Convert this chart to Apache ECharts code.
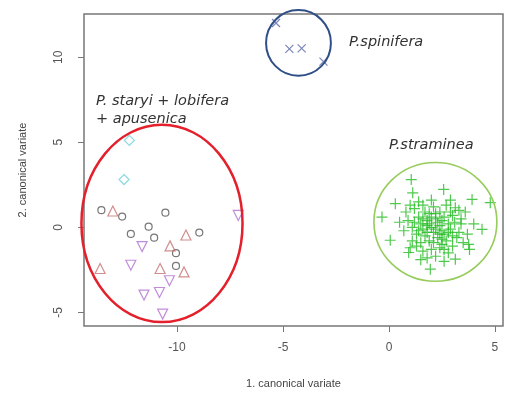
<!DOCTYPE html>
<html>
<head>
<meta charset="utf-8">
<script src="https://cdn.jsdelivr.net/npm/echarts@6/dist/echarts.min.js"></script>
<style>
  html, body { margin: 0; padding: 0; background: #fff; }
  #chart { width: 507px; height: 394px; }
</style>
</head>
<body>
<div id="chart"></div>
<script>
// canonical variate scores
const diamonds = [[-12.25, 5.11], [-12.5, 2.81]];
const circles = [
  [-13.57, 1.01], [-12.59, 0.63], [-10.55, 0.86], [-11.34, 0.04], [-12.18, -0.39],
  [-11.08, -0.61], [-8.95, -0.31], [-10.05, -1.52], [-10.05, -2.27]
];
const trianglesUp = [
  [-13.03, 0.96], [-9.58, -0.45], [-10.33, -1.09], [-13.63, -2.42], [-10.8, -2.42], [-9.67, -2.62]
];
const trianglesDown = [
  [-7.11, 0.7], [-11.65, -1.13], [-12.18, -2.23], [-10.36, -3.14], [-11.56, -3.98],
  [-10.83, -3.83], [-10.68, -5.1]
];
const spinifera = [[-5.33, 12.01], [-4.7, 10.49], [-4.12, 10.52], [-3.09, 9.74]];
const straminea = [
  [1.05, 2.81], [1.12, 2.03], [2.58, 2.23], [0.3, 1.39], [-0.33, 0.6], [3.92, 1.64],
  [4.78, 1.45], [3.13, 1.15], [4.39, -0.12], [0.06, -0.76], [3.76, -1.0], [0.93, -1.48],
  [3.13, -1.87], [1.95, -2.46],
  [1.2, 1.1], [1.6, 1.3], [2.1, 1.2], [2.4, 0.9], [1.9, 0.8], [1.4, 0.6], [0.9, 0.4],
  [1.1, 0.0], [0.7, -0.2], [1.5, 0.2], [1.8, 0.4], [2.2, 0.5], [2.6, 0.6], [3.0, 0.7],
  [3.4, 0.5], [3.6, 0.9], [2.8, 0.2], [2.4, 0.1], [2.0, 0.0], [1.6, -0.1], [1.3, -0.4],
  [1.7, -0.5], [2.1, -0.3], [2.5, -0.2], [2.9, -0.1], [3.3, -0.3], [3.7, -0.4], [3.1, 0.3],
  [2.3, -0.6], [1.9, -0.8], [1.5, -0.9], [1.1, -0.8], [2.7, -0.8], [3.0, -1.1], [2.4, -1.2],
  [2.0, -1.3], [1.6, -1.4], [2.8, -1.5], [2.2, -1.7], [1.8, -1.8], [2.5, -1.0], [1.4, 1.5],
  [2.0, 1.6], [2.7, 1.3], [3.3, 1.0], [0.8, 0.9], [1.0, -1.2], [3.5, -0.9], [2.6, -0.4],
  [1.2, 0.3], [1.7, 0.9], [2.3, 0.3], [2.9, 0.9], [3.2, -0.6], [1.9, 0.2], [2.1, -0.9],
  [2.5, 0.4], [1.4, -0.2], [2.8, -0.3], [2.0, 0.6], [1.8, -0.3], [2.4, -0.4], [2.2, 0.8],
  [1.6, 0.5], [3.0, -0.5], [2.6, -1.3], [1.3, -1.1], [2.2, -0.1], [1.8, 0.1], [2.5, -0.7],
  [3.4, 0.2], [0.5, 0.3], [4.0, 0.2], [3.8, -1.3], [1.0, 1.3], [2.9, 1.6], [1.5, -1.9],
  [2.6, -2.0]
];
// group ellipses: centre x, centre y, radius x, radius y
const ellipses = [[-10.71, 0.23, 3.8, 5.8], [-4.27, 10.84, 1.53, 1.93], [2.19, 0.32, 2.9, 3.49]];
const ellipseColors = ['#e3202b', '#2f4f86', '#96cc5c'];
const ellipseWidths = [2.5, 2, 1.6];
const xTicks = [-10, -5, 0, 5];
const yTicks = [-5, 0, 5, 10];

const chart = echarts.init(document.getElementById('chart'));

const axisFont = { fontFamily: 'Liberation Sans', fontSize: 12, color: '#555' };
const labelFont = 'italic 14.5px "DejaVu Sans"';

const openSymbol = (name, data, symbol, size, color, rotate) => ({
  name: name,
  type: 'scatter',
  data: data,
  symbol: symbol,
  symbolSize: size,
  symbolRotate: rotate || 0,
  itemStyle: { color: 'transparent', borderColor: color, borderWidth: 1.2 },
  z: 3
});

chart.setOption({
  animation: false,
  grid: { left: 84, right: 4, top: 14, bottom: 67, show: true, borderColor: '#777', borderWidth: 1.5 },
  xAxis: {
    type: 'value',
    min: -14.39,
    max: 5.38,
    name: '1. canonical variate',
    nameLocation: 'middle',
    nameGap: 52,
    nameTextStyle: { fontFamily: 'Liberation Sans', fontSize: 11, color: '#444' },
    axisLine: { show: false, onZero: false },
    splitLine: { show: false },
    axisTick: { show: true, inside: false, length: 6, customValues: xTicks, lineStyle: { color: '#777' } },
    axisLabel: Object.assign({ margin: 16, customValues: xTicks }, axisFont)
  },
  yAxis: {
    type: 'value',
    min: -5.8,
    max: 12.54,
    name: '2. canonical variate',
    nameLocation: 'middle',
    nameGap: 56,
    nameTextStyle: { fontFamily: 'Liberation Sans', fontSize: 11, color: '#444' },
    axisLine: { show: false, onZero: false },
    splitLine: { show: false },
    axisTick: { show: true, inside: false, length: 6, customValues: yTicks, lineStyle: { color: '#777' } },
    axisLabel: Object.assign({ margin: 19, rotate: 90, customValues: yTicks }, axisFont)
  },
  graphic: [
    { type: 'text', left: 349, top: 35, style: { text: 'P.spinifera', font: labelFont, fill: '#333' } },
    { type: 'text', left: 389, top: 138, style: { text: 'P.straminea', font: labelFont, fill: '#333' } },
    { type: 'text', left: 96, top: 94, style: { text: 'P. staryi + lobifera', font: labelFont, fill: '#333' } },
    { type: 'text', left: 96, top: 112, style: { text: '+ apusenica', font: labelFont, fill: '#333' } }
  ],
  series: [
    {
      type: 'custom',
      data: ellipses,
      clip: false,
      z: 5,
      renderItem: (params, api) => {
        const c = api.coord([api.value(0), api.value(1)]);
        const r = api.size([api.value(2), api.value(3)]);
        const i = params.dataIndex;
        return {
          type: 'ellipse',
          shape: { cx: c[0], cy: c[1], rx: r[0], ry: r[1] },
          style: { fill: 'none', stroke: ellipseColors[i], lineWidth: ellipseWidths[i] }
        };
      }
    },
    openSymbol('diamond', diamonds, 'diamond', 10, '#6fd0d6'),
    openSymbol('circle', circles, 'circle', 7, '#555'),
    openSymbol('up', trianglesUp, 'triangle', 10, '#c77272'),
    openSymbol('down', trianglesDown, 'triangle', 10, '#b26fd2', 180),
    openSymbol('spinifera', spinifera, 'path://M0,0L10,10M10,0L0,10', 8, '#5868a8'),
    openSymbol('straminea', straminea, 'path://M5,0L5,10M0,5L10,5', 11, '#22bb22')
  ]
});
</script>
</body>
</html>
